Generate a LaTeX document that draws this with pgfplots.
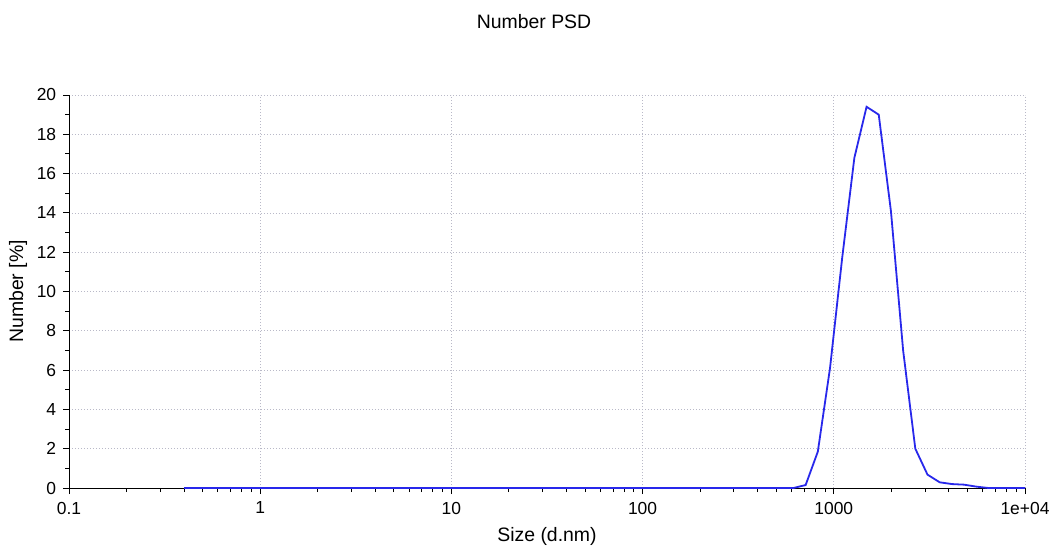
\documentclass[border=0pt]{standalone}
\usepackage{fontspec}
\setmainfont{Liberation Sans}
\usepackage{pgfplots}
\pgfplotsset{compat=1.18}
\definecolor{psdblue}{RGB}{40,40,235}
\definecolor{gridgray}{RGB}{185,185,200}
\begin{document}
\fontsize{17}{20}\selectfont
\begin{tikzpicture}
\useasboundingbox (-69bp,-59bp) rectangle (986bp,488bp);
\begin{axis}[
  at={(0,0)}, anchor=south west,
  scale only axis, width=956bp, height=393bp,
  xmode=log, log basis x=10,
  xmin=0.1, xmax=10000, ymin=0, ymax=20,
  axis x line*=bottom, axis y line*=left,
  axis line style={black, line width=0.9bp},
  xtick={0.1,1,10,100,1000,10000},
  xticklabels={0.1,1,10,100,1000,1e+04},
  minor xtick={0.2,0.3,0.4,0.5,0.6,0.7,0.8,0.9,2,3,4,5,6,7,8,9,20,30,40,50,60,70,80,90,200,300,400,500,600,700,800,900,2000,3000,4000,5000,6000,7000,8000,9000},
  ytick={0,2,...,20},
  minor ytick={1,3,...,19},
  tick align=outside,
  major tick length=6bp, minor tick length=4bp,
  tick style={black, line width=0.9bp},
  grid=major,
  major grid style={gridgray, line width=0.7bp, dash pattern=on 1bp off 2bp},
  /pgf/number format/assume math mode=true,
  ticklabel style={font=\fontsize{17.5}{20}\selectfont},
  xticklabel style={yshift=-2bp},
  yticklabel style={xshift=-1bp},
  xlabel={Size (d.nm)},
  ylabel={Number [\%]},
  label style={font=\fontsize{19.5}{22}\selectfont},
  xlabel style={at={(0.5,0)}, anchor=center, yshift=-48bp},
  ylabel style={at={(0,0.5)}, anchor=center, rotate=0, yshift=51bp},
  clip=false,
]
\addplot[psdblue, line width=1.8bp] coordinates {
(0.4,0) (0.4632,0) (0.5365,0) (0.6213,0) (0.7195,0) (0.8332,0) (0.9649,0)
(1.117,0) (1.294,0) (1.499,0) (1.736,0) (2.010,0) (2.328,0) (2.696,0)
(3.122,0) (3.615,0) (4.187,0) (4.849,0) (5.615,0) (6.503,0) (7.531,0)
(8.721,0) (10.10,0) (11.70,0) (13.54,0) (15.69,0) (18.17,0) (21.04,0)
(24.36,0) (28.21,0) (32.67,0) (37.84,0) (43.82,0) (50.75,0) (58.77,0)
(68.06,0) (78.82,0) (91.28,0) (105.7,0) (122.4,0) (141.8,0) (164.2,0)
(190.1,0) (220.2,0) (255.0,0) (295.3,0) (342.0,0) (396.1,0) (458.7,0)
(531.2,0) (615.1,0) (712.4,0.15) (825.0,1.85) (955.4,6.1) (1106,11.7)
(1281,16.8) (1484,19.4) (1718,19.0) (1990,14.1) (2305,7.0) (2669,2.0)
(3091,0.68) (3580,0.29) (4145,0.2) (4801,0.17) (5560,0.07) (6439,0)
(7456,0) (8635,0) (10000,0)
};
\end{axis}
\node[font=\fontsize{19.5}{22}\selectfont] at (465bp,466bp) {Number PSD};
\end{tikzpicture}
\end{document}
